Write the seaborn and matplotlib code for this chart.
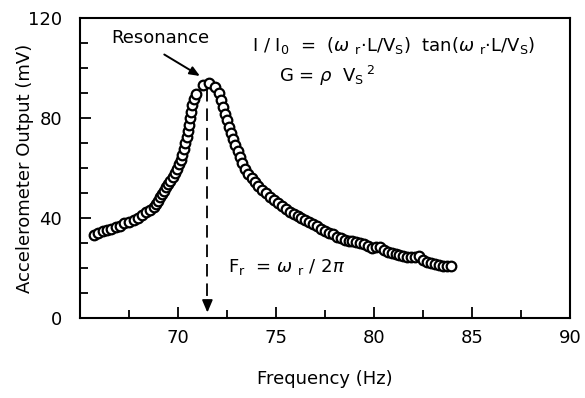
import matplotlib
matplotlib.use("Agg")
import matplotlib.pyplot as plt
from matplotlib.ticker import MultipleLocator
import seaborn as sns
import pandas as pd

# Measured resonance sweep
freq_hz = [65.7, 65.9, 66.15, 66.4, 66.6, 66.85, 67.05, 67.25, 67.5, 67.75,
           67.95, 68.15, 68.35, 68.55, 68.75, 68.9, 69.0, 69.1, 69.2, 69.3,
           69.4, 69.5, 69.6, 69.72, 69.83, 69.93, 70.03, 70.13, 70.22, 70.3,
           70.37, 70.44, 70.5, 70.55, 70.6, 70.66, 70.73, 70.82, 70.92, 71.25,
           71.6, 71.9, 72.08, 72.2, 72.3, 72.4, 72.5, 72.6, 72.7, 72.8,
           72.93, 73.05, 73.15, 73.28, 73.42, 73.58, 73.75, 73.92, 74.1, 74.3,
           74.5, 74.7, 74.9, 75.1, 75.3, 75.5, 75.7, 75.9, 76.1, 76.3,
           76.5, 76.7, 76.9, 77.1, 77.3, 77.5, 77.7, 77.9, 78.1, 78.3,
           78.5, 78.7, 78.9, 79.1, 79.3, 79.5, 79.7, 79.9, 80.1, 80.3,
           80.5, 80.7, 80.9, 81.1, 81.3, 81.5, 81.7, 81.9, 82.1, 82.3,
           82.5, 82.7, 82.9, 83.1, 83.3, 83.5, 83.7, 83.95]
output_mv = [33.3, 34.0, 34.8, 35.3, 35.6, 36.3, 37.0, 37.9, 38.6, 39.4,
             40.2, 41.4, 42.3, 43.1, 44.4, 45.8, 47.0, 48.4, 49.6, 51.0,
             52.3, 53.6, 55.0, 56.6, 58.2, 59.8, 61.6, 63.4, 65.4, 67.6,
             70.0, 72.4, 74.8, 77.4, 80.0, 82.6, 85.2, 87.8, 89.6, 93.2,
             94.1, 92.6, 90.2, 87.4, 84.6, 81.8, 79.2, 76.6, 74.2, 71.6,
             69.2, 66.8, 64.4, 62.0, 59.8, 57.8, 56.0, 54.3, 52.7, 51.3,
             49.9, 48.5, 47.2, 45.9, 44.7, 43.6, 42.6, 41.7, 40.9, 40.1,
             39.4, 38.6, 37.6, 36.8, 35.8, 35.0, 34.2, 33.5, 32.6, 31.9,
             31.4, 31.0, 30.7, 30.4, 30.1, 29.6, 29.0, 28.2, 28.4, 28.3,
             27.2, 26.6, 26.2, 25.8, 25.2, 24.9, 24.6, 24.4, 24.3, 24.9,
             23.4, 22.6, 22.1, 21.6, 21.2, 20.8, 20.9, 21.0]

resonance_hz = 71.5

x_ticks = [70, 75, 80, 85, 90]
y_ticks = [0, 40, 80, 120]

sns.set_style("ticks")
plt.rcParams["font.family"] = ["DejaVu Sans"]
plt.rcParams["mathtext.fontset"] = "dejavusans"
plt.rcParams["lines.scale_dashes"] = False
plt.rcParams["text.color"] = "black"
plt.rcParams["axes.labelcolor"] = "black"

fig = plt.figure(figsize=(5.85, 3.98), dpi=100)
ax = fig.add_axes([80 / 585, 1 - 318 / 398, 490 / 585, 300 / 398])

df = pd.DataFrame({"Frequency": freq_hz, "Output": output_mv})
sns.scatterplot(data=df, x="Frequency", y="Output", ax=ax, marker="o",
                s=48, facecolor="white", edgecolor="black", linewidth=1.6,
                zorder=3)

ax.set_xlim(65, 90)
ax.set_ylim(0, 120)
ax.set_xticks(x_ticks)
ax.set_yticks(y_ticks)
ax.xaxis.set_minor_locator(MultipleLocator(2.5))
ax.yaxis.set_minor_locator(MultipleLocator(10))
ax.tick_params(axis="both", which="major", direction="in", length=8,
               width=1.3, labelsize=13, color="black", labelcolor="black")
ax.tick_params(axis="both", which="minor", direction="in", length=6,
               width=1.3, color="black")
ax.tick_params(axis="x", which="major", pad=8)
ax.tick_params(axis="y", which="major", pad=13)
for sp in ax.spines.values():
    sp.set_linewidth(1.5)
    sp.set_color("black")

ax.set_xlabel("Frequency (Hz)", fontsize=13)
ax.set_ylabel("Accelerometer Output (mV)", fontsize=13)
ax.xaxis.set_label_coords(0.5, -0.175)
ax.yaxis.set_label_coords(-0.093, 0.5)

# Dashed marker line from the peak down to the frequency axis
ax.plot([resonance_hz, resonance_hz], [91.5, 6], color="black",
        linewidth=1.3, dashes=(9, 5), zorder=2)
ax.annotate("", xy=(resonance_hz, 2.2), xytext=(resonance_hz, 7),
            arrowprops=dict(arrowstyle="-|>,head_length=0.75,head_width=0.32",
                            color="black", linewidth=1.2, shrinkA=0, shrinkB=0))

# Resonance callout
ax.text(69.08, 112, "Resonance", ha="center", va="center", fontsize=13)
ax.annotate("", xy=(71.12, 96.8), xytext=(69.3, 105.4),
            arrowprops=dict(arrowstyle="-|>,head_length=0.6,head_width=0.25",
                            color="black", linewidth=1.4,
                            shrinkA=0, shrinkB=0))

ax.text(73.75, 109.2,
        r"I / I$_0$  =  ($\omega$ $_{\rm r}$$\cdot$L/V$_{\rm S}$)  tan($\omega$ $_{\rm r}$$\cdot$L/V$_{\rm S}$)",
        ha="left", va="center", fontsize=13)
ax.text(75.15, 97, r"G = $\rho$  V$_{\rm S}$$\,^{2}$", ha="left", va="center",
        fontsize=13)
ax.text(72.55, 20.5, r"F$_{\rm r}$  = $\omega$ $_{\rm r}$ / 2$\pi$",
        ha="left", va="center", fontsize=13)

fig.savefig("out.png", dpi=100)
